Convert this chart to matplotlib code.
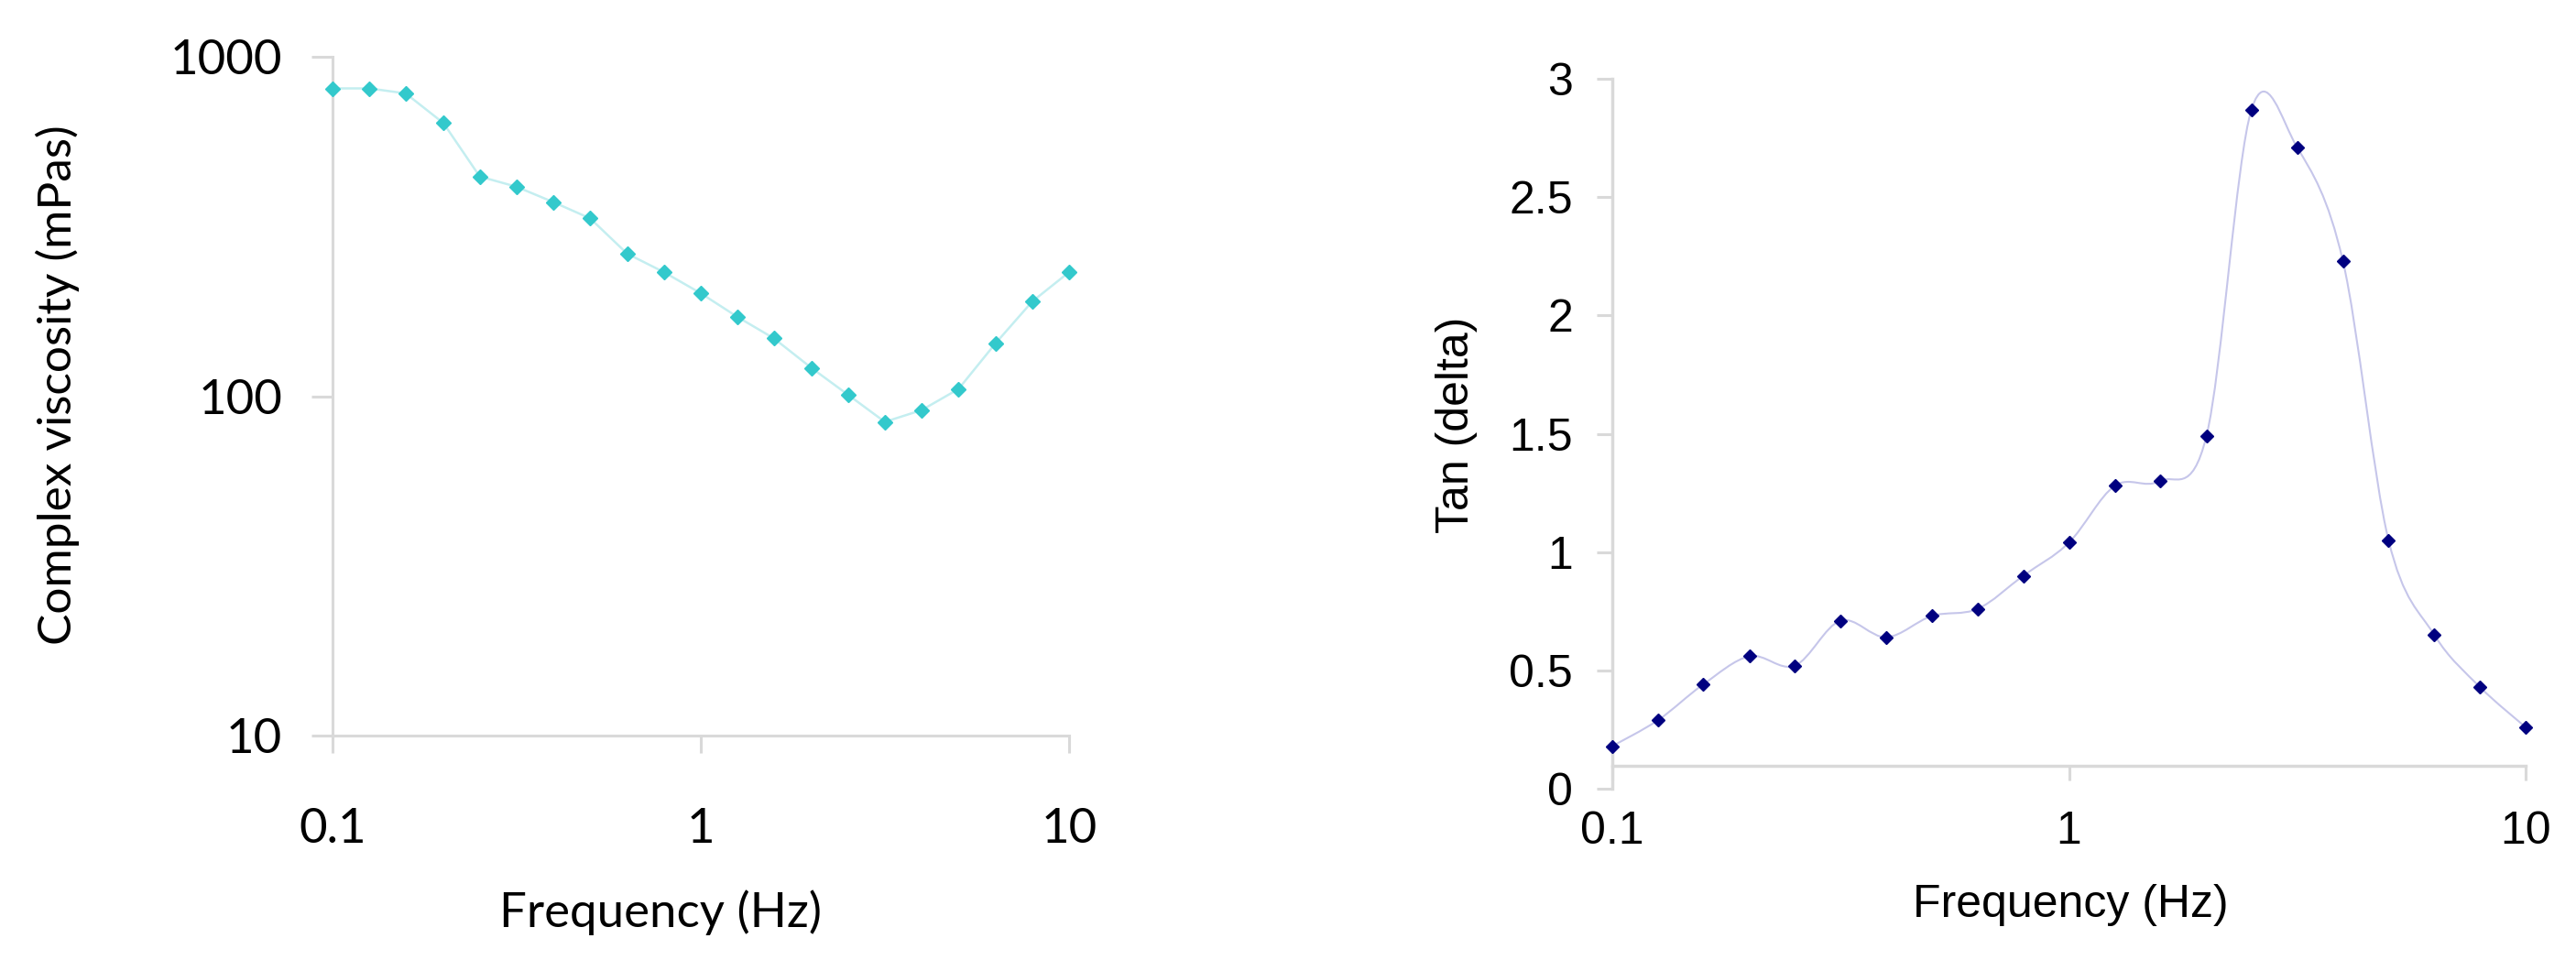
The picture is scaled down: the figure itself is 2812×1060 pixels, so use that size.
import numpy as np
import matplotlib.pyplot as plt
from matplotlib.path import Path
from matplotlib.patches import PathPatch

# frequency points (Hz), 5 per decade
freq = [0.1, 0.126, 0.158, 0.2, 0.251, 0.316, 0.398, 0.501, 0.631, 0.794,
        1.0, 1.26, 1.58, 2.0, 2.51, 3.16, 3.98, 5.01, 6.31, 7.94, 10.0]
# complex viscosity (mPas)
viscosity = [807, 807, 780, 638, 444, 414, 373, 334, 263, 232,
             201, 171, 148, 121, 101, 84, 91, 105, 143, 190, 232]
# tan(delta)
tan_delta = [0.18, 0.29, 0.44, 0.56, 0.52, 0.71, 0.64, 0.73, 0.76, 0.90,
             1.04, 1.28, 1.30, 1.49, 2.87, 2.71, 2.23, 1.05, 0.65, 0.43, 0.26]

W, H = 2812, 1060
fig = plt.figure(figsize=(W / 100, H / 100), dpi=100)
grey = '#d9d9d9'

# --- left chart: complex viscosity (Calibri-like font)
font_l = ['Lato', 'DejaVu Sans']
ax1 = fig.add_axes([363 / W, 1 - 803 / H, 804 / W, 741 / H])
ax1.set_xscale('log')
ax1.set_yscale('log')
ax1.plot(freq, viscosity, color='#c4eef0', lw=1.8, zorder=2)
ax1.plot(freq, viscosity, ls='none', marker='D', ms=8.5, color='#33c9cc',
         mec='#33c9cc', clip_on=False, zorder=3)
ax1.set_xlim(0.1, 10)
ax1.set_ylim(10, 1000)
ax1.set_xticks([0.1, 1, 10], ['0.1', '1', '10'])
ax1.set_yticks([10, 100, 1000], ['10', '100', '1000'])
ax1.minorticks_off()
for s in ['top', 'right']:
    ax1.spines[s].set_visible(False)
for s in ['left', 'bottom']:
    ax1.spines[s].set_color(grey)
    ax1.spines[s].set_linewidth(2.2)
ax1.tick_params(axis='x', length=14, width=2.2, color=grey, pad=43)
ax1.tick_params(axis='y', length=16.5, width=2.2, color=grey, pad=23)
for lab in ax1.get_xticklabels() + ax1.get_yticklabels():
    lab.set_fontfamily(font_l)
    lab.set_fontsize(38)
ax1.set_xlabel('Frequency (Hz)', family=font_l, fontsize=38, va='center')
ax1.set_ylabel('Complex viscosity (mPas)', family=font_l, fontsize=37, va='center')
ax1.xaxis.set_label_coords(0.445, -0.26)
ax1.yaxis.set_label_coords(-0.373, 0.517)

# --- right chart: tan delta (Arial-like font)
font_r = ['Liberation Sans', 'DejaVu Sans']
ax2 = fig.add_axes([1760 / W, 1 - 861 / H, 997 / W, 775 / H])
ax2.set_xscale('log')

# smoothed line like the spreadsheet's, bezier control points in log-x space
lx = np.log10(freq)
ty = np.array(tan_delta)
n = len(lx)
verts = [(lx[0], ty[0])]
codes = [Path.MOVETO]
for i in range(n - 1):
    p0 = np.array([lx[max(i - 1, 0)], ty[max(i - 1, 0)]])
    p1 = np.array([lx[i], ty[i]])
    p2 = np.array([lx[i + 1], ty[i + 1]])
    p3 = np.array([lx[min(i + 2, n - 1)], ty[min(i + 2, n - 1)]])
    verts += [p1 + (p2 - p0) / 6, p2 - (p3 - p1) / 6, p2]
    codes += [Path.CURVE4] * 3
verts = np.array(verts)
verts[:, 0] = 10 ** verts[:, 0]
curve = PathPatch(Path(verts, codes), facecolor='none', edgecolor='#c6c6ea',
                  lw=1.5, transform=ax2.transData, clip_on=False, zorder=2)
ax2.add_patch(curve)
ax2.plot(freq, tan_delta, ls='none', marker='D', ms=7.4, color='#000080',
         clip_on=False, zorder=3)
ax2.set_xlim(0.1, 10)
ax2.set_ylim(0, 3)
ax2.set_xticks([0.1, 1, 10], ['0.1', '1', '10'])
ax2.set_yticks([0, 0.5, 1, 1.5, 2, 2.5, 3], ['0', '0.5', '1', '1.5', '2', '2.5', '3'])
ax2.minorticks_off()
for s in ['top', 'right']:
    ax2.spines[s].set_visible(False)
for s in ['left', 'bottom']:
    ax2.spines[s].set_color(grey)
    ax2.spines[s].set_linewidth(2.5)
ax2.spines['bottom'].set_position(('data', 0.097))
ax2.tick_params(axis='x', length=11.5, width=2.2, color=grey, pad=24)
ax2.tick_params(axis='y', length=12, width=2.2, color=grey, pad=19)
for lab in ax2.get_xticklabels() + ax2.get_yticklabels():
    lab.set_fontfamily(font_r)
    lab.set_fontsize(36)
ax2.set_xlabel('Frequency (Hz)', family=font_r, fontsize=36, va='center')
ax2.set_ylabel('Tan (delta)', family=font_r, fontsize=36, va='center')
ax2.xaxis.set_label_coords(0.502, -0.164)
ax2.yaxis.set_label_coords(-0.1705, 0.512)

fig.savefig('out.png', dpi=100)
